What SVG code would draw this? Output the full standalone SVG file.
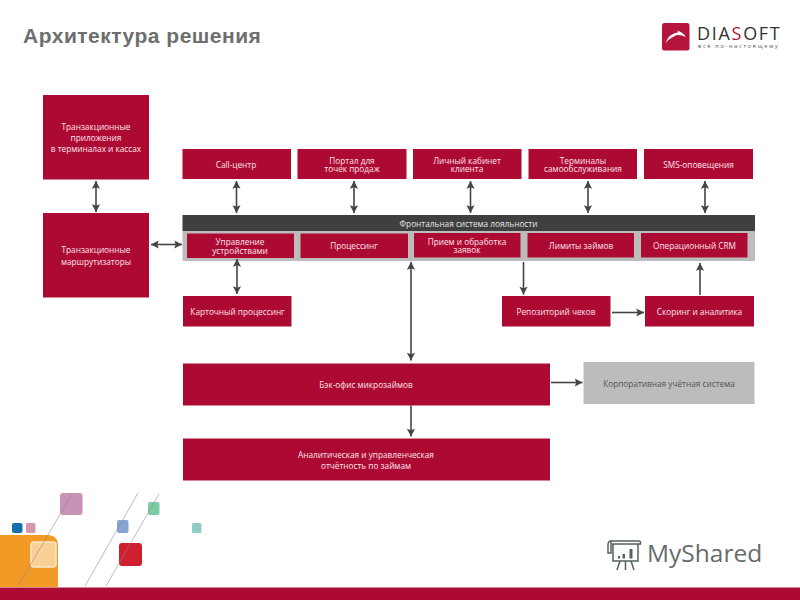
<svg xmlns="http://www.w3.org/2000/svg" width="800" height="600" viewBox="0 0 800 600">
<style>
text{font-family:"Open Sans","Liberation Sans",sans-serif;font-size:8.25px;text-anchor:middle;fill:#fbe3ea}
.r{fill:#ad0a33}
.c{stroke:#444;stroke-width:1.6;fill:none}
.gt{fill:#555}
.title{font-family:"Liberation Sans",sans-serif;font-weight:bold;font-size:21px;text-anchor:start;fill:#6e6e6e;letter-spacing:.5px}
</style>
<defs>
<marker id="a" viewBox="0 0 10 10" refX="9.5" refY="5" markerUnits="userSpaceOnUse" markerWidth="9" markerHeight="9" orient="auto-start-reverse"><path d="M1 0.5L9.5 5L1 9.5L2.5 5Z" fill="#444"/></marker>
</defs>
<rect width="800" height="600" fill="#fff"/>
<text class="title" x="23" y="43">Архитектура решения</text>

<g id="decor">
<path d="M0 535H47Q58 535 58 546V587H0Z" fill="#f39a26"/>
<rect x="31" y="542" width="25" height="25" rx="3" fill="#f9cf95" stroke="#fdeacb" stroke-width="1.5"/>
<rect x="60" y="493" width="22.500" height="22" rx="3" fill="#c794b5"/>
<rect x="12" y="523" width="10.500" height="10" rx="2" fill="#1470b0"/>
<rect x="26" y="523" width="9.500" height="10" rx="1.500" fill="#d595ab"/>
<rect x="117" y="520" width="11.500" height="13" rx="2" fill="#86a3d3"/>
<rect x="148" y="502" width="11.500" height="13" rx="2" fill="#7dcba5"/>
<rect x="192" y="523" width="9.500" height="10" rx="1.500" fill="#93cbc9"/>
<rect x="119" y="543" width="23" height="23" rx="3" fill="#cf2030"/>
<path d="M18 586L72 494M85 586L138 493M106 586L159 494" stroke="#8a8a8a" stroke-opacity=".55" stroke-width="1" fill="none"/>
<rect y="587.500" width="800" height="12.500" fill="#ad0a33"/>
</g>

<g id="logo">
<rect x="662" y="23" width="27.500" height="27.500" rx="2.500" fill="#b5153c"/>
<path d="M665 44Q669 33 679 32L676 30.500Q682 31 686 37Q678 33.500 674 36.500Q668 39 665 44Z" fill="#fff"/>
<text x="697" y="40" style="font-family:'Open Sans',sans-serif;font-size:18px;text-anchor:start;letter-spacing:1.700px;fill:#333">DIA<tspan fill="#b5153c">S</tspan>OFT</text>
<text x="698" y="47.500" style="font-size:5.500px;text-anchor:start;letter-spacing:1.750px;fill:#555">всё по-настоящему</text>
</g>

<g id="watermark">
<path d="M611 541H639M611 541Q608 541 608 545V553H611V541M639 541Q641 541 640.500 544H612M613 544V561H638V544M620 561L617 570M625.500 561V570M631 561L634 570" fill="none" stroke="#55605c" stroke-width="1.500"/>
<rect x="618" y="556" width="2" height="2.500" fill="#55605c"/>
<rect x="622.500" y="554" width="2.500" height="4.500" fill="#55605c"/>
<rect x="629.500" y="549" width="3" height="9.500" fill="#55605c"/>
<text x="647" y="562" style="font-size:24.500px;text-anchor:start;fill:#666c69">MyShared</text>
</g>

<g id="n-apps"><rect class="r" x="43" y="95" width="106" height="84.500"/><text x="96" y="130">Транзакционные</text><text x="96" y="141">приложения</text><text x="96" y="152">в терминалах и кассах</text></g>
<g id="n-routers"><rect class="r" x="43" y="213" width="106" height="84.500"/><text x="96" y="253">Транзакционные</text><text x="96" y="265">маршрутизаторы</text></g>

<g id="n-call"><rect class="r" x="182.500" y="149" width="108.500" height="30"/><text x="236" y="167.500">Call-центр</text></g>
<g id="n-portal"><rect class="r" x="297.500" y="149" width="109" height="30"/><text x="352" y="163.500">Портал для</text><text x="352" y="172">точек продаж</text></g>
<g id="n-cabinet"><rect class="r" x="413" y="149" width="108.500" height="30"/><text x="467" y="163.500">Личный кабинет</text><text x="467" y="172">клиента</text></g>
<g id="n-terminals"><rect class="r" x="528.500" y="149" width="108.500" height="30"/><text x="583" y="163.500">Терминалы</text><text x="583" y="172">самообслуживания</text></g>
<g id="n-sms"><rect class="r" x="644" y="149" width="109" height="30"/><text x="698.500" y="167.500">SMS-оповещения</text></g>

<g id="n-front">
<rect x="182.500" y="231" width="572.500" height="30" fill="#bcbcbc"/>
<rect x="182.500" y="215" width="572.500" height="16" fill="#3f3f3f"/>
<text x="468.500" y="226.500" style="fill:#e6e6e6">Фронтальная система лояльности</text>
</g>
<g id="n-devices"><rect class="r" x="187" y="233.500" width="107" height="24.500"/><text x="240" y="245">Управление</text><text x="240" y="253.500">устройствами</text></g>
<g id="n-processing"><rect class="r" x="300.500" y="233.500" width="107.500" height="24.500"/><text x="354" y="249">Процессинг</text></g>
<g id="n-intake"><rect class="r" x="414" y="233" width="106.500" height="24.500"/><text x="467" y="244.500">Прием и обработка</text><text x="467" y="253">заявок</text></g>
<g id="n-limits"><rect class="r" x="527.500" y="233" width="106.500" height="24.500"/><text x="581" y="249">Лимиты займов</text></g>
<g id="n-crm"><rect class="r" x="641" y="233" width="106.500" height="24.500"/><text x="694.500" y="249">Операционный CRM</text></g>

<g id="n-card"><rect class="r" x="183" y="296" width="108.500" height="30.500"/><text x="237.500" y="315">Карточный процессинг</text></g>
<g id="n-repo"><rect class="r" x="502" y="296" width="108.500" height="30.500"/><text x="556" y="315">Репозиторий чеков</text></g>
<g id="n-scoring"><rect class="r" x="645" y="296" width="109" height="30.500"/><text x="699.500" y="315">Скоринг и аналитика</text></g>
<g id="n-back"><rect class="r" x="183" y="363.500" width="367" height="42"/><text x="366" y="388">Бэк-офис микрозаймов</text></g>
<g id="n-reports"><rect class="r" x="183" y="438.500" width="367" height="42"/><text x="366" y="458">Аналитическая и управленческая</text><text x="366" y="469">отчётность по займам</text></g>
<g id="n-erp"><rect x="583.500" y="362" width="171" height="42" fill="#bcbcbc"/><text class="gt" x="669" y="387">Корпоративная учётная система</text></g>

<g id="connectors">
<path class="c" marker-start="url(#a)" marker-end="url(#a)" d="M96 181V212"/>
<path class="c" marker-start="url(#a)" marker-end="url(#a)" d="M151 244.500H182"/>
<path class="c" marker-start="url(#a)" marker-end="url(#a)" d="M236.500 181V213"/>
<path class="c" marker-start="url(#a)" marker-end="url(#a)" d="M354 181V213"/>
<path class="c" marker-start="url(#a)" marker-end="url(#a)" d="M470.500 181V213"/>
<path class="c" marker-start="url(#a)" marker-end="url(#a)" d="M588 181V213"/>
<path class="c" marker-start="url(#a)" marker-end="url(#a)" d="M705 181V213"/>
<path class="c" marker-start="url(#a)" marker-end="url(#a)" d="M237 259V294"/>
<path class="c" marker-start="url(#a)" marker-end="url(#a)" d="M411 262V360.500"/>
<path class="c" marker-end="url(#a)" d="M523.500 262V294.500"/>
<path class="c" marker-end="url(#a)" d="M700 295V263"/>
<path class="c" marker-end="url(#a)" d="M612 312.500H644"/>
<path class="c" marker-end="url(#a)" d="M551 382.500H582.500"/>
<path class="c" marker-end="url(#a)" d="M411 405.500V436.500"/>
</g>
</svg>
